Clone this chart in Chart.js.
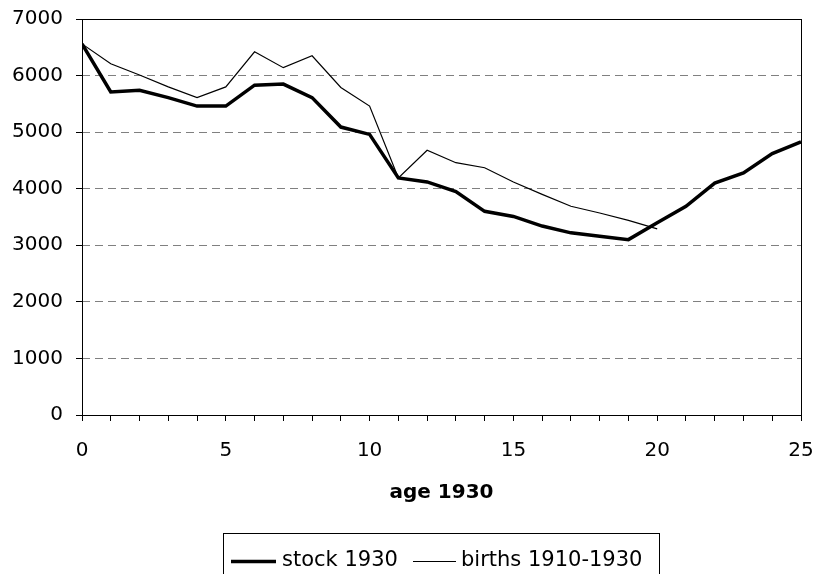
<!DOCTYPE html>
<html>
<head>
<meta charset="utf-8">
<script src="https://cdn.jsdelivr.net/npm/chart.js@4"></script>
<style>
  html, body { margin: 0; padding: 0; background: #fff; }
  #wrap { width: 818px; height: 574px; }
</style>
</head>
<body>
<div id="wrap"><canvas id="chart-age"></canvas></div>
<script>
// DATA //
const ages = [0, 1, 2, 3, 4, 5, 6, 7, 8, 9, 10, 11, 12, 13, 14, 15, 16, 17, 18, 19, 20, 21, 22, 23, 24, 25]
const stock1930 = [6560, 5710, 5740, 5610, 5460, 5460, 5830, 5850, 5610, 5090, 4960, 4190, 4120, 3950, 3600, 3510, 3340, 3220, 3160, 3100, 3400, 3690, 4100, 4280, 4620, 4830]
const births19101930 = [6560, 6210, 6010, 5800, 5610, 5800, 6420, 6140, 6350, 5790, 5460, 4190, 4680, 4460, 4370, 4120, 3900, 3690, 3570, 3440, 3290]
const seriesNames = ['stock 1930', 'births 1910-1930']
const xTitle = 'age 1930'
const yTicks = [0, 1000, 2000, 3000, 4000, 5000, 6000, 7000]

const FONT = "'DejaVu Sans', sans-serif"

// CAIXA DO GRÁFICO + LEGENDA //
const framePlugin = {
    id: 'frame',
    afterDraw(chart) {
        const { ctx, chartArea } = chart
        ctx.save()
        ctx.strokeStyle = '#000'
        ctx.lineWidth = 1
        ctx.setLineDash([])
        ctx.strokeRect(chartArea.left + 0.5, chartArea.top + 0.5, chartArea.right - chartArea.left, chartArea.bottom - chartArea.top)

        // legend
        ctx.strokeRect(223.5, 533.5, 436, 60)
        ctx.fillStyle = '#000'
        ctx.font = '21px ' + FONT
        ctx.textBaseline = 'middle'
        ctx.textAlign = 'left'

        ctx.lineWidth = 3.5
        ctx.beginPath(); ctx.moveTo(231, 561.5); ctx.lineTo(276, 561.5); ctx.stroke()
        ctx.fillText(seriesNames[0], 282, 561)

        ctx.lineWidth = 1.2
        ctx.beginPath(); ctx.moveTo(413, 561.5); ctx.lineTo(456, 561.5); ctx.stroke()
        ctx.fillText(seriesNames[1], 461, 561)
        ctx.restore()
    }
}

const ctxAge = document.getElementById('chart-age').getContext('2d')

new Chart(ctxAge, {
    type: 'line',
    data: {
        datasets: [{
            label: seriesNames[0],
            data: stock1930.map((v, i) => ({ x: ages[i], y: v })),
            borderColor: '#000',
            borderWidth: 3.5,
            pointRadius: 0,
            tension: 0,
        }, {
            label: seriesNames[1],
            data: births19101930.map((v, i) => ({ x: ages[i], y: v })),
            borderColor: '#000',
            borderWidth: 1.2,
            pointRadius: 0,
            tension: 0,
        }]
    },
    options: {
        responsive: true,
        maintainAspectRatio: false,
        animation: false,
        layout: {
            padding: { top: 19, right: 17, left: 0, bottom: 64 }
        },
        scales: {
            x: {
                type: 'linear',
                min: 0,
                max: 25,
                afterFit: scale => {
                    scale.height = 95
                    scale.paddingLeft = 0
                    scale.paddingRight = 0
                },
                grid: {
                    drawOnChartArea: false,
                    tickLength: 6,
                    tickColor: '#000',
                    color: '#000'
                },
                border: { display: false },
                ticks: {
                    stepSize: 1,
                    padding: 18,
                    color: '#000',
                    font: { family: FONT, size: 20 },
                    maxRotation: 0,
                    autoSkip: false,
                    callback: v => (v % 5 === 0 ? String(v) : '')
                },
                title: {
                    display: true,
                    text: xTitle,
                    color: '#000',
                    font: { family: FONT, size: 20, weight: 'bold' },
                    padding: { top: 0, bottom: 5 }
                }
            },
            y: {
                min: 0,
                max: 7000,
                afterFit: scale => {
                    scale.width = 82
                    scale.paddingTop = 0
                    scale.paddingBottom = 0
                },
                afterBuildTicks: scale => { scale.ticks = yTicks.map(v => ({ value: v })) },
                grid: {
                    color: c => (c.tick && (c.tick.value === 0 || c.tick.value === 7000)) ? 'rgba(0,0,0,0)' : '#808080',
                    tickColor: '#000',
                    tickLength: 6,
                    tickBorderDash: []
                },
                border: { display: false, dash: [8, 5] },
                ticks: {
                    padding: 13,
                    color: '#000',
                    font: { family: FONT, size: 20 },
                    callback: v => String(v)
                }
            }
        },
        plugins: {
            legend: { display: false },
            tooltip: { enabled: false }
        }
    },
    plugins: [framePlugin]
})
</script>
</body>
</html>
